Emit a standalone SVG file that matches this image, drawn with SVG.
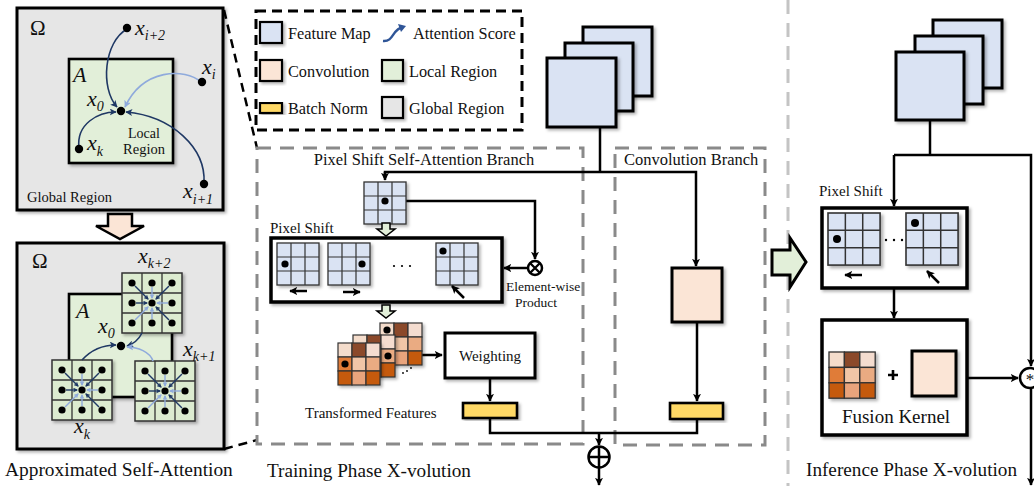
<svg xmlns="http://www.w3.org/2000/svg" width="1034" height="486" viewBox="0 0 1034 486">
  <style>
    .t { font-family: "Liberation Serif", "Times New Roman", serif; fill: #111; }
    .m { font-family: "Liberation Serif", "Times New Roman", serif; font-style: italic; fill: #111; }
    .box { stroke: #000; stroke-width: 3; }
    .fm { fill: #dae3f3; }
    .cv { fill: #fbe5d6; }
    .bn { fill: #ffd966; }
    .lr { fill: #e2efd9; }
    .gr { fill: #e6e6e6; }
    .ln { fill: none; stroke: #000; stroke-width: 2.5; }
    .dk { fill: none; stroke: #1f3864; stroke-width: 1.6; }
    .lt { fill: none; stroke: #8faadc; stroke-width: 1.6; }
    .cell { stroke: #333; stroke-width: 1.2; }
  </style>
  <defs>
    <filter id="sh" x="-10%" y="-10%" width="130%" height="130%">
      <feDropShadow dx="2" dy="2" stdDeviation="1.5" flood-color="#000" flood-opacity="0.3"/>
    </filter>
    <marker id="ah" viewBox="0 0 10 10" refX="9" refY="5" markerWidth="8" markerHeight="8" markerUnits="userSpaceOnUse" orient="auto">
      <path d="M0,0 L10,5 L0,10 L2.5,5 z" fill="#000"/>
    </marker>
    <marker id="ad" viewBox="0 0 10 10" refX="9" refY="5" markerWidth="7" markerHeight="7" markerUnits="userSpaceOnUse" orient="auto">
      <path d="M0,0 L10,5 L0,10 L2.5,5 z" fill="#1f3864"/>
    </marker>
    <marker id="al" viewBox="0 0 10 10" refX="9" refY="5" markerWidth="7" markerHeight="7" markerUnits="userSpaceOnUse" orient="auto">
      <path d="M0,0 L10,5 L0,10 L2.5,5 z" fill="#8faadc"/>
    </marker>
    <marker id="as" viewBox="0 0 10 10" refX="8" refY="5" markerWidth="5" markerHeight="5" markerUnits="userSpaceOnUse" orient="auto">
      <path d="M0,0 L10,5 L0,10 L2.5,5 z" fill="#1f3864"/>
    </marker>
    <marker id="als" viewBox="0 0 10 10" refX="8" refY="5" markerWidth="5" markerHeight="5" markerUnits="userSpaceOnUse" orient="auto">
      <path d="M0,0 L10,5 L0,10 L2.5,5 z" fill="#8faadc"/>
    </marker>

    <!-- 3x3 attention window: neighbours pointing at the centre pixel -->
    <g id="attn-grid">
      <rect x="0" y="0" width="60" height="60" fill="#dcebd0" stroke="#333" stroke-width="1.5" filter="url(#sh)"/>
      <path d="M20,0 V60 M40,0 V60 M0,20 H60 M0,40 H60" stroke="#333" stroke-width="1.3" fill="none"/>
      <g stroke-width="1.4" fill="none">
        <line x1="13" y1="13" x2="26" y2="26" stroke="#1f3864" marker-end="url(#as)"/>
        <line x1="47" y1="13" x2="34" y2="26" stroke="#1f3864" marker-end="url(#as)"/>
        <line x1="13" y1="47" x2="26" y2="34" stroke="#8faadc" marker-end="url(#als)"/>
        <line x1="47" y1="47" x2="34" y2="34" stroke="#1f3864" marker-end="url(#as)"/>
        <line x1="14" y1="30" x2="25" y2="30" stroke="#1f3864" marker-end="url(#as)"/>
        <line x1="46" y1="30" x2="35" y2="30" stroke="#8faadc" marker-end="url(#als)"/>
        <line x1="30" y1="14" x2="30" y2="25" stroke="#8faadc" marker-end="url(#als)"/>
        <line x1="30" y1="46" x2="30" y2="35" stroke="#8faadc" marker-end="url(#als)"/>
      </g>
      <g fill="#000">
        <circle cx="10" cy="10" r="3.6"/><circle cx="30" cy="10" r="3.6"/><circle cx="50" cy="10" r="3.6"/>
        <circle cx="10" cy="30" r="3.6"/><circle cx="30" cy="30" r="3.6"/><circle cx="50" cy="30" r="3.6"/>
        <circle cx="10" cy="50" r="3.6"/><circle cx="30" cy="50" r="3.6"/><circle cx="50" cy="50" r="3.6"/>
      </g>
    </g>

    <!-- 3x3 feature-map window -->
    <g id="ps-grid">
      <rect x="0" y="0" width="42" height="42" class="fm" stroke="#333" stroke-width="1.3" filter="url(#sh)"/>
      <path d="M14,0 V42 M28,0 V42 M0,14 H42 M0,28 H42" stroke="#333" stroke-width="1.2" fill="none"/>
    </g>

    <!-- 3x3 learned kernel weights -->
    <g id="kern-grid" filter="url(#sh)">
      <rect x="0" y="0" width="14" height="14" fill="#f4dccb" class="cell"/>
      <rect x="14" y="0" width="14" height="14" fill="#8b4a2b" class="cell"/>
      <rect x="28" y="0" width="14" height="14" fill="#f4dccf" class="cell"/>
      <rect x="0" y="14" width="14" height="14" fill="#e07b39" class="cell"/>
      <rect x="14" y="14" width="14" height="14" fill="#f1c6a7" class="cell"/>
      <rect x="28" y="14" width="14" height="14" fill="#eaab82" class="cell"/>
      <rect x="0" y="28" width="14" height="14" fill="#c55a11" class="cell"/>
      <rect x="14" y="28" width="14" height="14" fill="#e9a47b" class="cell"/>
      <rect x="28" y="28" width="14" height="14" fill="#c55a11" class="cell"/>
    </g>
  </defs>

  <rect x="0" y="0" width="1034" height="486" fill="#fff"/>

  <!-- zoom guide lines -->
  <g id="guides" fill="none" stroke="#000" stroke-width="2.5" stroke-dasharray="9 6">
    <line x1="224" y1="10" x2="257" y2="148"/>
    <line x1="224" y1="449" x2="257" y2="440"/>
  </g>
  <line x1="788" y1="0" x2="788" y2="486" stroke="#c4c4c4" stroke-width="3" stroke-dasharray="14 9"/>

  <!-- global / local attention view -->
  <g id="global-attention">
    <rect x="17" y="8" width="206" height="202" class="gr box" filter="url(#sh)"/>
    <text class="t" x="30" y="35" font-size="21">Ω</text>
    <rect x="69" y="59" width="104" height="104" class="lr" stroke="#000" stroke-width="2.6" filter="url(#sh)"/>
    <text class="m" x="73" y="82" font-size="22">A</text>
    <text class="t" x="144" y="138" font-size="14" text-anchor="middle">Local</text>
    <text class="t" x="144" y="154" font-size="14.5" text-anchor="middle">Region</text>
    <text class="t" x="27" y="202" font-size="14.5">Global Region</text>
    <path class="dk" d="M127,29 C104,42 100,88 117,107" marker-end="url(#ad)"/>
    <path class="lt" d="M201,82 C185,68 143,68 125,107" marker-end="url(#al)"/>
    <path class="dk" d="M79,148 C76,124 98,112 116,112" marker-end="url(#ad)"/>
    <path class="dk" d="M204,183 C206,148 172,116 126,112" marker-end="url(#ad)"/>
    <circle cx="121" cy="111" r="4.2" fill="#000"/>
    <circle cx="127" cy="28" r="4.2" fill="#000"/>
    <circle cx="202" cy="82" r="4.2" fill="#000"/>
    <circle cx="79" cy="149" r="4.2" fill="#000"/>
    <circle cx="204" cy="184" r="4.2" fill="#000"/>
    <text class="m" x="87" y="106" font-size="22">x<tspan font-size="14" dy="5">0</tspan></text>
    <text class="m" x="135" y="35" font-size="22">x<tspan font-size="14" dy="5">i+2</tspan></text>
    <text class="m" x="202" y="74" font-size="22">x<tspan font-size="14" dy="5">i</tspan></text>
    <text class="m" x="87" y="150" font-size="22">x<tspan font-size="14" dy="6">k</tspan></text>
    <text class="m" x="183" y="198" font-size="22">x<tspan font-size="14" dy="6">i+1</tspan></text>
  </g>

  <g id="down-arrow">
    <polygon points="108,214 132,214 132,226 144,226 120,239 96,226 108,226" class="cv" stroke="#000" stroke-width="2.5" stroke-linejoin="miter"/>
  </g>

  <!-- approximated attention with shifted windows -->
  <g id="approx-attention">
    <rect x="17" y="243" width="207" height="206" class="gr box" filter="url(#sh)"/>
    <text class="t" x="32" y="268" font-size="21">Ω</text>
    <rect x="69" y="294" width="103" height="103" class="lr" stroke="#000" stroke-width="2.6" filter="url(#sh)"/>
    <text class="m" x="76" y="318" font-size="22">A</text>
    <use href="#attn-grid" x="122" y="273"/>
    <use href="#attn-grid" x="52" y="360"/>
    <use href="#attn-grid" x="135" y="361"/>
    <path class="dk" d="M142,333 C138,341 133,344 127,346" marker-end="url(#ad)"/>
    <path class="dk" d="M82,360 C92,349 104,345 116,345" marker-end="url(#ad)"/>
    <path class="lt" d="M153,361 C150,352 138,347 127,347" marker-end="url(#al)"/>
    <circle cx="121" cy="346" r="4.2" fill="#000"/>
    <text class="m" x="98" y="333" font-size="22">x<tspan font-size="14" dy="5">0</tspan></text>
    <text class="m" x="138" y="263" font-size="22">x<tspan font-size="14" dy="5">k+2</tspan></text>
    <text class="m" x="183" y="356" font-size="22">x<tspan font-size="14" dy="5">k+1</tspan></text>
    <text class="m" x="74" y="433" font-size="22">x<tspan font-size="14" dy="6">k</tspan></text>
  </g>
  <text class="t" x="5" y="476" font-size="19.4">Approximated Self-Attention</text>

  <!-- legend -->
  <g id="legend">
    <rect x="256" y="11" width="266" height="119" fill="#fff" stroke="#000" stroke-width="3" stroke-dasharray="10 6"/>
    <rect x="260" y="22" width="22" height="21" class="fm" stroke="#000" stroke-width="2.2" filter="url(#sh)"/>
    <text class="t" x="288" y="39" font-size="16.3">Feature Map</text>
    <path d="M383,41 C394,42 392,29 403,27" fill="none" stroke="#2f5597" stroke-width="2.4"/>
    <path d="M398,24 L406,26 L401,32 z" fill="#2f5597"/>
    <text class="t" x="413" y="39" font-size="16.3">Attention Score</text>
    <rect x="260" y="60" width="22" height="21" class="cv" stroke="#000" stroke-width="2.2" filter="url(#sh)"/>
    <text class="t" x="288" y="77" font-size="16.3">Convolution</text>
    <rect x="382" y="60" width="21" height="21" class="lr" stroke="#000" stroke-width="2.2" filter="url(#sh)"/>
    <text class="t" x="409" y="77" font-size="16.3">Local Region</text>
    <rect x="260" y="103" width="22" height="10" class="bn" stroke="#000" stroke-width="2.2" filter="url(#sh)"/>
    <text class="t" x="288" y="114" font-size="16.3">Batch Norm</text>
    <rect x="382" y="97" width="21" height="21" class="gr" stroke="#000" stroke-width="2.2" filter="url(#sh)"/>
    <text class="t" x="409" y="114" font-size="16.3">Global Region</text>
  </g>

  <!-- training phase branches -->
  <rect x="257" y="148" width="326" height="296" fill="none" stroke="#8a8a8a" stroke-width="3" stroke-dasharray="14 9"/>
  <rect x="615" y="148" width="150" height="297" fill="none" stroke="#8a8a8a" stroke-width="3" stroke-dasharray="14 9"/>
  <text class="t" x="424" y="165" font-size="16.5" text-anchor="middle">Pixel Shift Self-Attention Branch</text>
  <text class="t" x="624" y="165" font-size="16.5">Convolution Branch</text>

  <g id="train-input">
    <rect x="583" y="27" width="69" height="69" class="fm box" filter="url(#sh)"/>
    <rect x="565" y="43" width="68" height="68" class="fm box" filter="url(#sh)"/>
    <rect x="547" y="58" width="69" height="69" class="fm box" filter="url(#sh)"/>
  </g>

  <g id="train-connectors">
    <path class="ln" d="M600,127 V172"/>
    <path class="ln" d="M385,178 V172 H696 V266" marker-end="url(#ah)"/>
    <path class="ln" d="M385,172 V180" marker-end="url(#ah)"/>
    <path class="ln" d="M406,201 H535 V259" marker-end="url(#ah)"/>
    <path class="ln" d="M528,268 H504" marker-end="url(#ah)"/>
    <path class="ln" d="M395,355 H442" marker-end="url(#ah)"/>
    <path class="ln" d="M490,378 V401" marker-end="url(#ah)"/>
    <path class="ln" d="M697,322 V401" marker-end="url(#ah)"/>
    <path class="ln" d="M490,418 V433 H697 V420"/>
    <path class="ln" d="M599,433 V445" marker-end="url(#ah)"/>
    <path class="ln" d="M599,468 V485" marker-end="url(#ah)"/>
  </g>

  <g id="query-grid">
    <use href="#ps-grid" x="364" y="182"/>
    <circle cx="385" cy="201" r="3.6" fill="#000"/>
  </g>

  <g id="shift-arrow-1">
    <polygon points="382,223 390,223 390,229 395,229 386,236 377,229 382,229" class="lr" stroke="#000" stroke-width="1.5"/>
  </g>

  <g id="pixel-shift">
    <text class="t" x="270" y="233" font-size="15">Pixel Shift</text>
    <rect x="271" y="238" width="231" height="64" fill="#fff" stroke="#000" stroke-width="3.5" filter="url(#sh)"/>
    <use href="#ps-grid" x="277" y="243"/>
    <circle cx="285" cy="264" r="3.6" fill="#000"/>
    <use href="#ps-grid" x="328" y="243"/>
    <circle cx="362" cy="264" r="3.6" fill="#000"/>
    <use href="#ps-grid" x="436" y="243"/>
    <circle cx="443" cy="251" r="3.6" fill="#000"/>
    <circle cx="394" cy="266" r="1.1" fill="#000"/>
    <circle cx="402" cy="266" r="1.1" fill="#000"/>
    <circle cx="410" cy="266" r="1.1" fill="#000"/>
    <path class="ln" d="M307,291 H290" stroke-width="2.2" marker-end="url(#ah)"/>
    <path class="ln" d="M343,292 H360" stroke-width="2.2" marker-end="url(#ah)"/>
    <path class="ln" d="M464,298 L452,286" stroke-width="2.2" marker-end="url(#ah)"/>
  </g>

  <g id="product">
    <circle cx="535" cy="268" r="7" fill="#fff" stroke="#000" stroke-width="2.5"/>
    <path d="M530,263 L540,273 M540,263 L530,273" stroke="#000" stroke-width="2.3"/>
    <text class="t" x="506" y="291" font-size="13.5">Element-wise</text>
    <text class="t" x="515" y="307" font-size="13.5">Product</text>
  </g>

  <g id="shift-arrow-2">
    <polygon points="382,305 390,305 390,311 395,311 386,318 377,311 382,311" class="lr" stroke="#000" stroke-width="1.5"/>
  </g>

  <g id="transformed">
    <use href="#kern-grid" x="380" y="323"/>
    <use href="#kern-grid" x="353" y="335"/>
    <use href="#kern-grid" x="338" y="343"/>
    <circle cx="387" cy="330" r="3.6" fill="#000"/>
    <circle cx="388" cy="356" r="3.6" fill="#000"/>
    <circle cx="345" cy="364" r="3.6" fill="#000"/>
    <circle cx="403" cy="373" r="0.9" fill="#000"/>
    <circle cx="407" cy="371" r="0.9" fill="#000"/>
    <circle cx="411" cy="368" r="0.9" fill="#000"/>
    <text class="t" x="305" y="418" font-size="15">Transformed Features</text>
  </g>

  <g id="weighting">
    <rect x="445" y="333" width="90" height="45" fill="#fff" stroke="#000" stroke-width="3" filter="url(#sh)"/>
    <text class="t" x="490" y="361" font-size="15" text-anchor="middle">Weighting</text>
  </g>
  <g id="bn-attn">
    <rect x="463" y="403" width="54" height="15" class="bn" stroke="#000" stroke-width="2.6" filter="url(#sh)"/>
  </g>
  <g id="conv">
    <rect x="672" y="268" width="50" height="54" class="cv box" filter="url(#sh)"/>
  </g>
  <g id="bn-conv">
    <rect x="670" y="403" width="53" height="16" class="bn" stroke="#000" stroke-width="2.6" filter="url(#sh)"/>
  </g>
  <g id="sum">
    <circle cx="599" cy="457" r="10.5" fill="#fff" stroke="#000" stroke-width="2.5"/>
    <path d="M588.5,457 H609.5 M599,446.5 V467.5" stroke="#000" stroke-width="2.5"/>
  </g>
  <text class="t" x="267" y="477" font-size="19.2">Training Phase X-volution</text>

  <g id="reparam-arrow">
    <polygon points="772,250 790,250 790,238 806,262 790,287 790,275 772,275" class="lr" stroke="#000" stroke-width="3"/>
  </g>

  <!-- inference phase -->
  <g id="infer-input">
    <rect x="933" y="20" width="69" height="68" class="fm box" filter="url(#sh)"/>
    <rect x="915" y="36" width="68" height="68" class="fm box" filter="url(#sh)"/>
    <rect x="896" y="52" width="68" height="68" class="fm box" filter="url(#sh)"/>
  </g>

  <g id="infer-connectors">
    <path class="ln" d="M930,120 V155"/>
    <path class="ln" d="M894,155 H1031 V366" marker-end="url(#ah)"/>
    <path class="ln" d="M894,155 V206" marker-end="url(#ah)"/>
    <path class="ln" d="M894,288 V318" marker-end="url(#ah)"/>
    <path class="ln" d="M967,378 H1018" marker-end="url(#ah)"/>
    <path class="ln" d="M1031,389 V485" marker-end="url(#ah)"/>
  </g>

  <g id="infer-shift">
    <text class="t" x="819" y="196" font-size="15">Pixel Shift</text>
    <rect x="822" y="208" width="145" height="80" fill="#fff" stroke="#000" stroke-width="3.5" filter="url(#sh)"/>
    <use href="#ps-grid" transform="translate(828,213) scale(1.24)"/>
    <circle cx="837" cy="239" r="4" fill="#000"/>
    <use href="#ps-grid" transform="translate(906,213) scale(1.24)"/>
    <circle cx="915" cy="223" r="4" fill="#000"/>
    <circle cx="886" cy="240" r="1.2" fill="#000"/>
    <circle cx="894" cy="240" r="1.2" fill="#000"/>
    <circle cx="902" cy="240" r="1.2" fill="#000"/>
    <path class="ln" d="M862,275 H845" stroke-width="2.2" marker-end="url(#ah)"/>
    <path class="ln" d="M939,283 L927,271" stroke-width="2.2" marker-end="url(#ah)"/>
  </g>

  <g id="fusion-kernel">
    <rect x="822" y="320" width="145" height="115" fill="#fff" stroke="#000" stroke-width="3.5" filter="url(#sh)"/>
    <use href="#kern-grid" transform="translate(829,352) scale(1.1)"/>
    <path d="M888,375 H898 M893,370 V380" stroke="#000" stroke-width="2.6"/>
    <rect x="912" y="351" width="44" height="45" class="cv box" filter="url(#sh)"/>
    <text class="t" x="896" y="423" font-size="19" text-anchor="middle">Fusion Kernel</text>
  </g>

  <g id="conv-op">
    <circle cx="1030" cy="378" r="10" fill="#fff" stroke="#000" stroke-width="2.5"/>
    <text class="t" x="1030" y="385" font-size="17" text-anchor="middle">*</text>
  </g>
  <text class="t" x="806" y="476" font-size="19.2">Inference Phase X-volution</text>
</svg>
